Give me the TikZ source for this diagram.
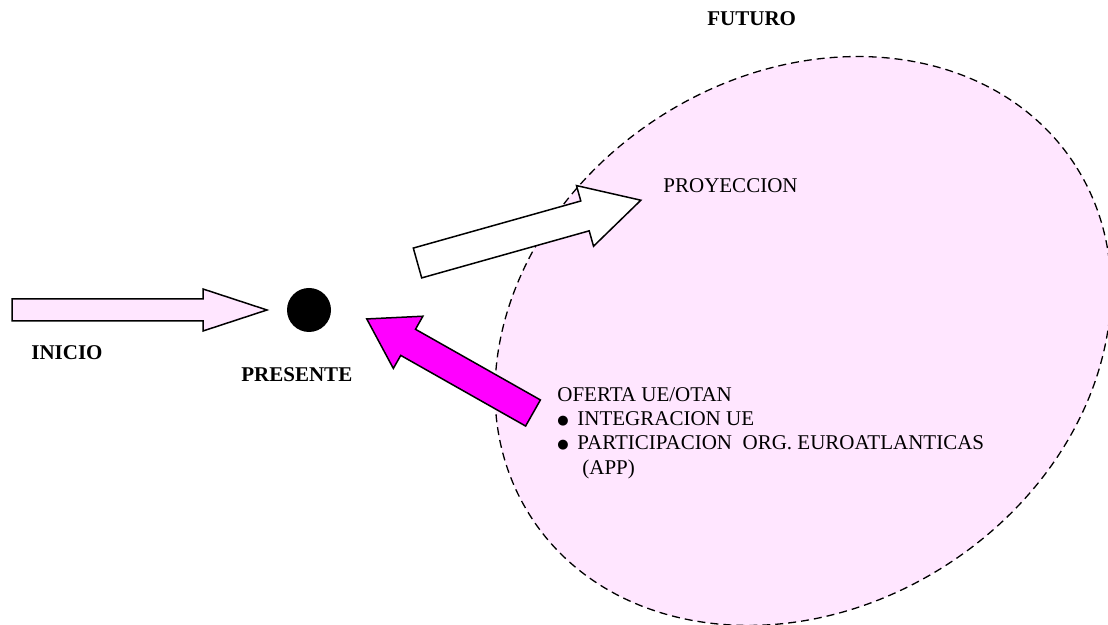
\documentclass[tikz,border=0pt]{standalone}
\usepackage{fontspec}
\setmainfont{Liberation Serif}
\newfontfamily\simbolo{DejaVu Sans}
\definecolor{rosa}{HTML}{FFE6FF}
\definecolor{fucsia}{HTML}{FF00FF}

\begin{document}
\begin{tikzpicture}[x=0.5pt,y=0.5pt,
  texto/.style={font=\fontsize{10.5}{12}\selectfont, inner sep=0pt, anchor=base west},
  titulo/.style={texto, font=\fontsize{10.5}{12}\selectfont\bfseries},
  flecha/.style={draw, line width=0.75pt, line join=miter}]
\useasboundingbox (0,0) rectangle (1108,625);
% zona del futuro
\draw[dash pattern=on 4pt off 2.5pt, line width=0.65pt, fill=rosa] (803,284) ellipse [x radius=324, y radius=266, rotate=33];

% flecha inicio
\begin{scope}[shift={(12,315)}]
  \draw[flecha, fill=rosa] (0,-11) -- (191,-11) -- (191,-21) -- (255,0) -- (191,21) -- (191,11) -- (0,11) -- cycle;
\end{scope}
% flecha proyeccion
\begin{scope}[shift={(417.5,362)}, rotate=15.7]
  \draw[flecha, fill=white] (0,-15.5) -- (174,-15.5) -- (174,-31.5) -- (232,0) -- (174,31.5) -- (174,15.5) -- (0,15.5) -- cycle;
\end{scope}
% flecha oferta
\begin{scope}[shift={(533,212)}, rotate=150.5]
  \draw[flecha, fill=fucsia] (0,-15) -- (143.5,-15) -- (143.5,-30) -- (191,0) -- (143.5,30) -- (143.5,15) -- (0,15) -- cycle;
\end{scope}

\node[circle, fill=black, minimum size=22pt, inner sep=0pt] (presente) at (309,315) {};

\node[titulo] (inicio) at (31,265) {INICIO};
\node[titulo] (presentetxt) at (241,243) {PRESENTE};
\node[titulo] (futuro) at (707,599) {FUTURO};
\node[texto] (proyeccion) at (663,432) {PROYECCION};
\node[texto] (oferta) at (557,223) {OFERTA UE/OTAN};
\node[texto] (integracion) at (557,199) {\makebox[10pt][l]{\raisebox{0.8pt}{\simbolo\fontsize{6.5}{7}\selectfont ●}}INTEGRACION UE};
\node[texto] (participacion) at (557,175) {\makebox[10pt][l]{\raisebox{0.8pt}{\simbolo\fontsize{6.5}{7}\selectfont ●}}PARTICIPACION\ \ ORG. EUROATLANTICAS};
\node[texto] (app) at (582,150) {(APP)};
\end{tikzpicture}
\end{document}
